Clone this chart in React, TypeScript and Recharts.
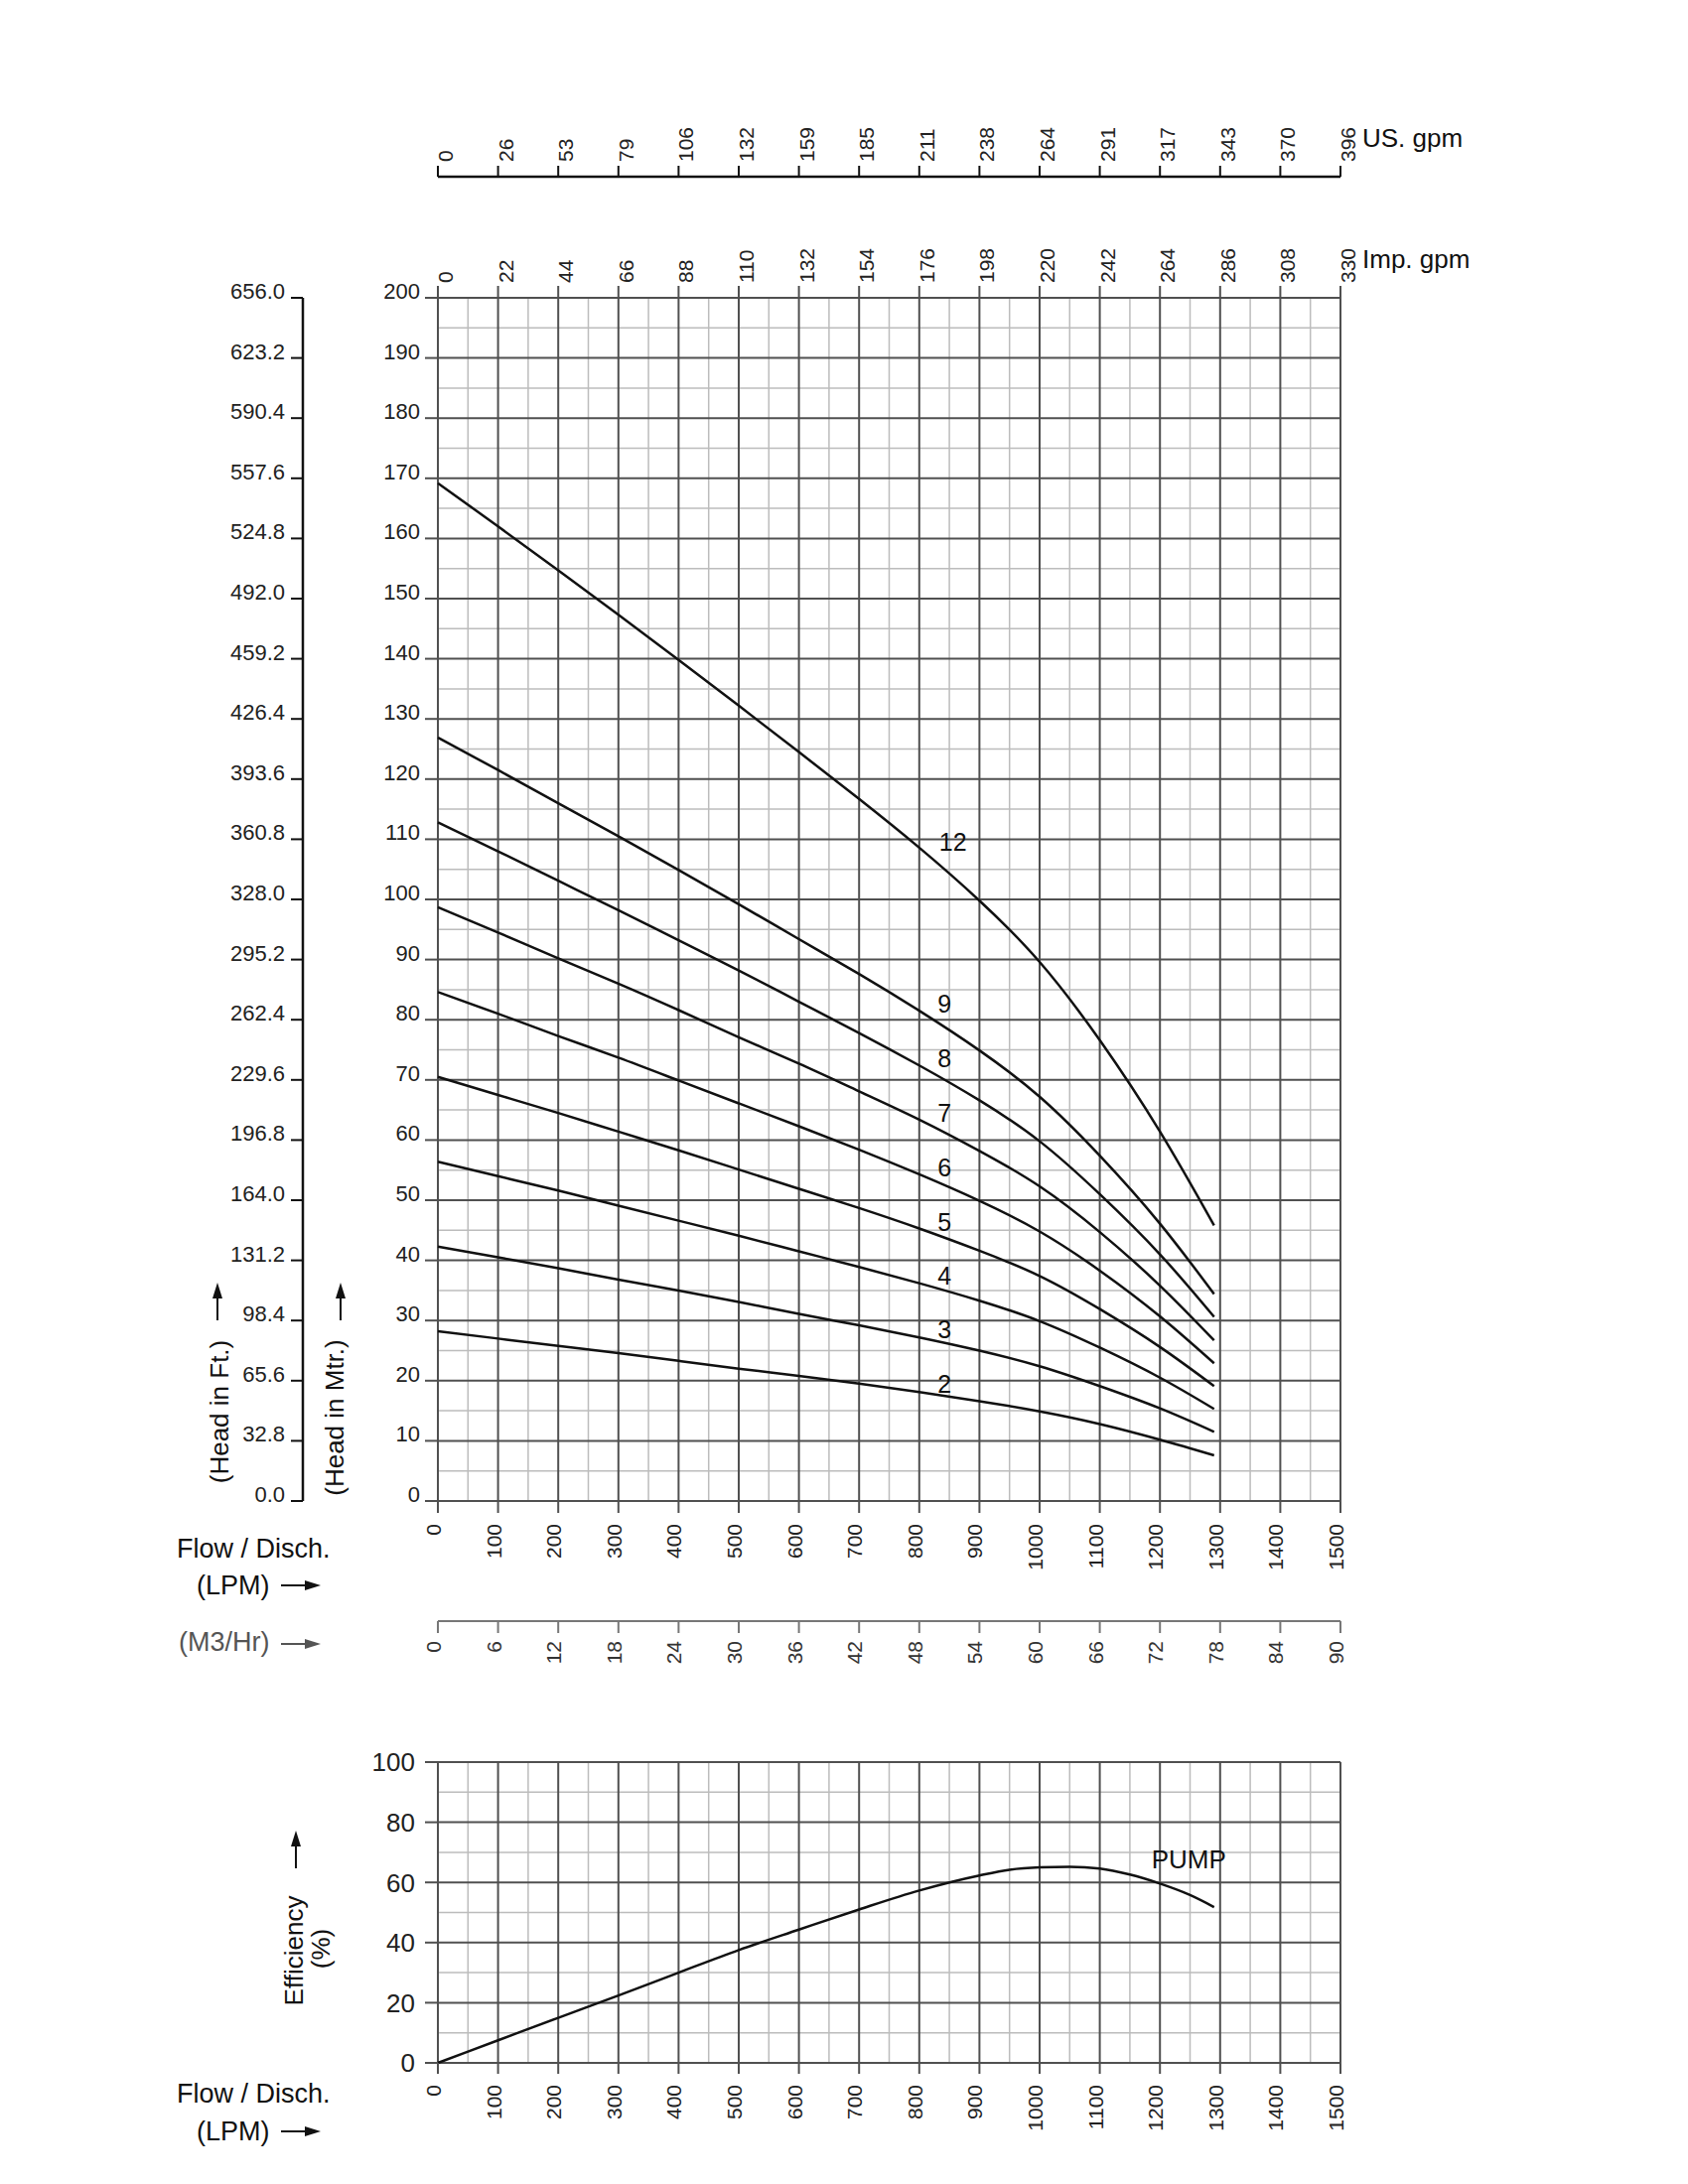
import React from 'react';
import { CartesianGrid, Line, LineChart, ReferenceDot, XAxis, YAxis } from 'recharts';

const flowPoints = [0, 100, 200, 300, 400, 500, 600, 700, 800, 900, 1000, 1100, 1200, 1290];

// head in metres for each stage count
const head12 = [169.2, 162.0, 154.7, 147.3, 139.8, 132.2, 124.5, 116.7, 108.6, 99.8, 89.6, 76.6, 61.4, 45.8];
const head9 = [126.9, 121.5, 116.0, 110.5, 104.9, 99.2, 93.4, 87.6, 81.5, 74.9, 67.2, 57.4, 46.1, 34.4];
const head8 = [112.8, 108.0, 103.1, 98.2, 93.2, 88.2, 83.0, 77.8, 72.4, 66.6, 59.8, 51.0, 41.0, 30.6];
const head7 = [98.7, 94.5, 90.2, 86.0, 81.6, 77.1, 72.7, 68.1, 63.4, 58.2, 52.3, 44.7, 35.8, 26.7];
const head6 = [84.6, 81.0, 77.3, 73.7, 69.9, 66.1, 62.3, 58.4, 54.3, 49.9, 44.8, 38.3, 30.7, 22.9];
const head5 = [70.5, 67.5, 64.5, 61.4, 58.3, 55.1, 51.9, 48.7, 45.3, 41.6, 37.4, 31.9, 25.6, 19.1];
const head4 = [56.4, 54.0, 51.6, 49.1, 46.6, 44.1, 41.5, 38.9, 36.2, 33.3, 29.9, 25.5, 20.5, 15.3];
const head3 = [42.3, 40.5, 38.7, 36.8, 35.0, 33.1, 31.1, 29.2, 27.2, 25.0, 22.4, 19.1, 15.4, 11.5];
const head2 = [28.2, 27.0, 25.8, 24.6, 23.3, 22.0, 20.8, 19.5, 18.1, 16.6, 14.9, 12.8, 10.2, 7.6];

// curve number labels: [text, flow, head]
const stageLabels: [string, number, number][] = [
  ['12', 856, 109.6],
  ['9', 842, 82.7],
  ['8', 842, 73.6],
  ['7', 842, 64.5],
  ['6', 842, 55.4],
  ['5', 842, 46.4],
  ['4', 842, 37.5],
  ['3', 842, 28.6],
  ['2', 842, 19.5],
];

// pump efficiency
const effFlow = [0, 100, 200, 300, 400, 500, 600, 700, 800, 900, 950, 1000, 1050, 1100, 1150, 1200, 1250, 1290];
const effValues = [0, 7.5, 15.0, 22.4, 30.0, 37.5, 44.3, 51.0, 57.3, 62.3, 64.2, 65.0, 65.2, 64.6, 62.6, 59.6, 55.8, 51.8];

// axis ticks
const lpmTicks = [0, 100, 200, 300, 400, 500, 600, 700, 800, 900, 1000, 1100, 1200, 1300, 1400, 1500];
const lpmMinor = [50, 150, 250, 350, 450, 550, 650, 750, 850, 950, 1050, 1150, 1250, 1350, 1450];
const usGpmLabels = ['0', '26', '53', '79', '106', '132', '159', '185', '211', '238', '264', '291', '317', '343', '370', '396'];
const impGpmLabels = ['0', '22', '44', '66', '88', '110', '132', '154', '176', '198', '220', '242', '264', '286', '308', '330'];
const m3hrLabels = ['0', '6', '12', '18', '24', '30', '36', '42', '48', '54', '60', '66', '72', '78', '84', '90'];
const headTicks = [0, 10, 20, 30, 40, 50, 60, 70, 80, 90, 100, 110, 120, 130, 140, 150, 160, 170, 180, 190, 200];
const headMinor = [5, 15, 25, 35, 45, 55, 65, 75, 85, 95, 105, 115, 125, 135, 145, 155, 165, 175, 185, 195];
const ftTicks = [0, 32.8, 65.6, 98.4, 131.2, 164, 196.8, 229.6, 262.4, 295.2, 328, 360.8, 393.6, 426.4, 459.2, 492, 524.8, 557.6, 590.4, 623.2, 656];
const effTicks = [0, 20, 40, 60, 80, 100];
const effMinor = [10, 30, 50, 70, 90];

const FONT = '"Liberation Sans", Arial, Helvetica, sans-serif';
const MAJOR = '#505050';
const MINOR = '#bcbcbc';
const INK = '#111';
const LPM_DOMAIN = [0, 1500];

const curves = [head12, head9, head8, head7, head6, head5, head4, head3, head2].map((heads) =>
  flowPoints.map((lpm, i) => ({ lpm, head: heads[i] }))
);
const effData = effFlow.map((lpm, i) => ({ lpm, eff: effValues[i] }));

function labelFor(labels: string[], value: number) {
  const i = lpmTicks.indexOf(value);
  return i >= 0 ? labels[i] : '';
}

// rotated labels under an axis (text ends at the tick)
const BottomTick = (labels: string[], color = '#222') => (props: any) => {
  const { x, y, payload } = props;
  return (
    <text transform={`translate(${x + 3},${y}) rotate(-90)`} textAnchor="end" fontSize={21} fill={color}>
      {labelFor(labels, payload.value)}
    </text>
  );
};

// rotated labels above an axis (text starts at the tick)
const TopTick = (labels: string[]) => (props: any) => {
  const { x, y, payload } = props;
  return (
    <text transform={`translate(${x + 15},${y}) rotate(-90)`} textAnchor="start" fontSize={21} fill="#222">
      {labelFor(labels, payload.value)}
    </text>
  );
};

const BaselineTick = (digits: number) => (props: any) => {
  const { x, y, payload } = props;
  return (
    <text x={x} y={y + 1} textAnchor="end" fontSize={22} fill="#222">
      {Number(payload.value).toFixed(digits)}
    </text>
  );
};

const EffTick = (props: any) => {
  const { x, y, payload } = props;
  return (
    <text x={x} y={y} dy="0.36em" textAnchor="end" fontSize={26} fill="#222">
      {payload.value}
    </text>
  );
};

const lpmLabels = lpmTicks.map(String);

// an invisible series so that a secondary axis gets its scale and ticks
function carrier(xId: string, yId: string) {
  return (
    <Line
      key={`${xId}-${yId}`}
      data={curves[0]}
      dataKey="head"
      xAxisId={xId}
      yAxisId={yId}
      stroke="none"
      strokeWidth={0}
      dot={false}
      activeDot={false}
      legendType="none"
      isAnimationActive={false}
    />
  );
}

function HArrow({ x, y, color = INK }: { x: number; y: number; color?: string }) {
  return (
    <g>
      <line x1={x} y1={y} x2={x + 28} y2={y} stroke={color} strokeWidth={2} />
      <polygon points={`${x + 24},${y - 5} ${x + 40},${y} ${x + 24},${y + 5}`} fill={color} />
    </g>
  );
}

function VArrow({ x, y }: { x: number; y: number }) {
  return (
    <g>
      <line x1={x} y1={y} x2={x} y2={y - 26} stroke={INK} strokeWidth={2} />
      <polygon points={`${x - 5},${y - 22} ${x},${y - 38} ${x + 5},${y - 22}`} fill={INK} />
    </g>
  );
}

export default function App() {
  return (
    <div style={{ position: 'absolute', left: 0, top: 0, width: 1700, height: 2200, background: '#fff', fontFamily: FONT }}>
      <div style={{ position: 'absolute', left: 0, top: 0 }}>
        <LineChart width={1700} height={1700} margin={{ top: 98, right: 350, bottom: 7, left: 205 }}>
          <CartesianGrid xAxisId="x1lpm" yAxisId="y1m" verticalValues={lpmMinor} horizontalValues={headMinor} syncWithTicks stroke={MINOR} strokeWidth={1.5} />
          <CartesianGrid xAxisId="x1lpm" yAxisId="y1m" verticalValues={lpmTicks} horizontalValues={headTicks} syncWithTicks stroke={MAJOR} strokeWidth={2} />
          <XAxis
            xAxisId="x1lpm"
            dataKey="lpm"
            type="number"
            domain={LPM_DOMAIN}
            ticks={lpmTicks}
            interval={0}
            orientation="bottom"
            height={121}
            axisLine={false}
            tickLine={{ stroke: MAJOR, strokeWidth: 2 }}
            tickSize={12}
            tickMargin={11}
            tick={BottomTick(lpmLabels)}
          />
          <XAxis
            xAxisId="x2m3"
            dataKey="lpm"
            type="number"
            domain={LPM_DOMAIN}
            ticks={lpmTicks}
            interval={0}
            orientation="bottom"
            height={60}
            axisLine={{ stroke: '#777', strokeWidth: 2 }}
            tickLine={{ stroke: '#777', strokeWidth: 2 }}
            tickSize={12}
            tickMargin={8}
            tick={BottomTick(m3hrLabels, '#333')}
          />
          <XAxis
            xAxisId="x3imp"
            dataKey="lpm"
            type="number"
            domain={LPM_DOMAIN}
            ticks={lpmTicks}
            interval={0}
            orientation="top"
            height={122}
            axisLine={false}
            tickLine={{ stroke: MAJOR, strokeWidth: 2 }}
            tickSize={12}
            tickMargin={3}
            tick={TopTick(impGpmLabels)}
          />
          <XAxis
            xAxisId="x4us"
            dataKey="lpm"
            type="number"
            domain={LPM_DOMAIN}
            ticks={lpmTicks}
            interval={0}
            orientation="top"
            height={80}
            axisLine={{ stroke: INK, strokeWidth: 2.5 }}
            tickLine={{ stroke: INK, strokeWidth: 2 }}
            tickSize={11}
            tickMargin={4}
            tick={TopTick(usGpmLabels)}
          />
          <YAxis
            yAxisId="y1m"
            type="number"
            domain={[0, 200]}
            ticks={headTicks}
            interval={0}
            orientation="left"
            width={136}
            axisLine={false}
            tickLine={{ stroke: MAJOR, strokeWidth: 2 }}
            tickSize={13}
            tickMargin={5}
            tick={BaselineTick(0)}
          />
          <YAxis
            yAxisId="y2ft"
            type="number"
            domain={[0, 656]}
            ticks={ftTicks}
            interval={0}
            orientation="left"
            width={100}
            axisLine={{ stroke: INK, strokeWidth: 2.5 }}
            tickLine={{ stroke: INK, strokeWidth: 2 }}
            tickSize={12}
            tickMargin={6}
            tick={BaselineTick(1)}
          />
          {carrier('x2m3', 'y1m')}
          {carrier('x3imp', 'y1m')}
          {carrier('x4us', 'y1m')}
          {carrier('x1lpm', 'y2ft')}
          {curves.map((data, i) => (
            <Line
              key={i}
              data={data}
              dataKey="head"
              xAxisId="x1lpm"
              yAxisId="y1m"
              type="natural"
              stroke={INK}
              strokeWidth={2.5}
              dot={false}
              activeDot={false}
              isAnimationActive={false}
            />
          ))}
          {stageLabels.map(([text, q, h]) => (
            <ReferenceDot
              key={text}
              xAxisId="x1lpm"
              yAxisId="y1m"
              x={q}
              y={h}
              r={1}
              fill="none"
              stroke="none"
              label={{ value: text, position: 'center', fontSize: 25, fill: INK }}
            />
          ))}
        </LineChart>
      </div>

      <div style={{ position: 'absolute', left: 0, top: 1700 }}>
        <LineChart width={1700} height={500} margin={{ top: 75, right: 350, bottom: 22, left: 311 }}>
          <CartesianGrid xAxisId="x1lpm" yAxisId="y1eff" verticalValues={lpmMinor} horizontalValues={effMinor} syncWithTicks stroke={MINOR} strokeWidth={1.5} />
          <CartesianGrid xAxisId="x1lpm" yAxisId="y1eff" verticalValues={lpmTicks} horizontalValues={effTicks} syncWithTicks stroke={MAJOR} strokeWidth={2} />
          <XAxis
            xAxisId="x1lpm"
            dataKey="lpm"
            type="number"
            domain={LPM_DOMAIN}
            ticks={lpmTicks}
            interval={0}
            orientation="bottom"
            height={100}
            axisLine={false}
            tickLine={{ stroke: MAJOR, strokeWidth: 2 }}
            tickSize={11}
            tickMargin={11}
            tick={BottomTick(lpmLabels)}
          />
          <YAxis
            yAxisId="y1eff"
            type="number"
            domain={[0, 100]}
            ticks={effTicks}
            interval={0}
            orientation="left"
            width={130}
            axisLine={false}
            tickLine={{ stroke: MAJOR, strokeWidth: 2 }}
            tickSize={13}
            tickMargin={10}
            tick={EffTick}
          />
          <Line
            data={effData}
            dataKey="eff"
            xAxisId="x1lpm"
            yAxisId="y1eff"
            type="monotone"
            stroke={INK}
            strokeWidth={2.5}
            dot={false}
            activeDot={false}
            isAnimationActive={false}
          />
          <ReferenceDot
            xAxisId="x1lpm"
            yAxisId="y1eff"
            x={1248}
            y={67.7}
            r={1}
            fill="none"
            stroke="none"
            label={{ value: 'PUMP', position: 'center', fontSize: 26, fill: INK }}
          />
        </LineChart>
      </div>

      <svg
        width={1700}
        height={2200}
        style={{ position: 'absolute', left: 0, top: 0, pointerEvents: 'none', fontFamily: FONT }}
      >
        <text x={1372} y={148} fontSize={26} fill={INK}>US. gpm</text>
        <text x={1372} y={270} fontSize={26} fill={INK}>Imp. gpm</text>

        <text transform="translate(230,1422) rotate(-90)" textAnchor="middle" fontSize={26} fill={INK}>(Head in Ft.)</text>
        <VArrow x={219} y={1330} />
        <text transform="translate(346,1428) rotate(-90)" textAnchor="middle" fontSize={26} fill={INK}>(Head in Mtr.)</text>
        <VArrow x={343} y={1330} />

        <text x={178} y={1569} fontSize={27} fill={INK}>Flow / Disch.</text>
        <text x={198} y={1606} fontSize={27} fill={INK}>(LPM)</text>
        <HArrow x={283} y={1597} />
        <text x={180} y={1663} fontSize={27} fill="#555">(M3/Hr)</text>
        <HArrow x={283} y={1656} color="#555" />

        <text transform="translate(305,1965) rotate(-90)" textAnchor="middle" fontSize={26} fill={INK}>Efficiency</text>
        <text transform="translate(332,1963) rotate(-90)" textAnchor="middle" fontSize={26} fill={INK}>(%)</text>
        <VArrow x={298} y={1882} />

        <text x={178} y={2118} fontSize={27} fill={INK}>Flow / Disch.</text>
        <text x={198} y={2156} fontSize={27} fill={INK}>(LPM)</text>
        <HArrow x={283} y={2147} />
      </svg>
    </div>
  );
}
